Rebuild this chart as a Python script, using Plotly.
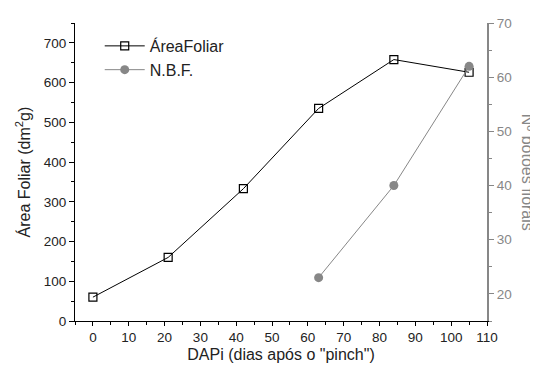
import plotly.graph_objects as go

dapi = [0, 21, 42, 63, 84, 105]
area_foliar = [60, 160, 333, 535, 658, 626]
nbf_x = [63, 84, 105]
nbf = [23, 40, 62]

FONT = "Liberation Sans, Arial, sans-serif"
GRAY = "#878787"

fig = go.Figure()
fig.add_trace(go.Scatter(
    x=dapi, y=area_foliar, name="ÁreaFoliar", mode="lines+markers",
    line=dict(color="black", width=1),
    marker=dict(symbol="square-open", size=8, color="black", line=dict(width=1.2)),
    xaxis="x", yaxis="y"))
fig.add_trace(go.Scatter(
    x=nbf_x, y=nbf, name="N.B.F.", mode="lines+markers",
    line=dict(color=GRAY, width=1),
    marker=dict(symbol="circle", size=9, color=GRAY),
    xaxis="x", yaxis="y2"))

common_x = dict(range=[-5, 110], tick0=0, dtick=10, zeroline=False, showgrid=False)

fig.update_layout(
    width=538, height=365,
    margin=dict(l=67, r=59, t=8, b=52),
    paper_bgcolor="white", plot_bgcolor="white",
    font=dict(family=FONT, size=13.5, color="#222"),
    showlegend=True,
    legend=dict(x=0.06, y=0.98, xanchor="left", yanchor="top",
                bgcolor="rgba(0,0,0,0)", font=dict(size=16, color="#222"),
                tracegroupgap=0, itemwidth=40),
    xaxis=dict(**common_x, ticks="outside", ticklen=4, tickwidth=1,
               tickcolor="black", showline=True, linecolor="black", linewidth=1,
               minor=dict(ticks="outside", dtick=5, ticklen=3, tickcolor="black"),
               tickfont=dict(size=13.5, color="#222"),
               title=dict(text='DAPi (dias após o "pinch")', font=dict(size=16, color="#222"), standoff=4)),
    xaxis2=dict(**common_x, overlaying="x", side="top", anchor="y",
                ticks="inside", ticklen=5, tickcolor="black",
                showline=True, linecolor="black", linewidth=1, showticklabels=False,
                minor=dict(ticks="inside", dtick=5, ticklen=3, tickcolor="black")),
    xaxis3=dict(**common_x, overlaying="x", side="bottom", anchor="y",
                ticks="inside", ticklen=3, tickcolor="black",
                showline=False, showticklabels=False,
                minor=dict(ticks="inside", dtick=5, ticklen=2, tickcolor="black")),
    yaxis=dict(range=[0, 750], tick0=0, dtick=100, showgrid=False, zeroline=False,
               ticks="outside", ticklen=5, tickcolor="black",
               showline=True, linecolor="black", linewidth=1,
               minor=dict(ticks="outside", dtick=50, ticklen=3, tickcolor="black"),
               tickfont=dict(size=13.5, color="#222")),
    yaxis2=dict(range=[15, 70], tick0=0, dtick=10, overlaying="y", side="right",
                showgrid=False, zeroline=False,
                ticks="outside", ticklen=5, tickcolor=GRAY,
                showline=True, linecolor=GRAY, linewidth=2,
                minor=dict(ticks="outside", dtick=5, ticklen=3, tickcolor=GRAY),
                tickfont=dict(size=13.5, color=GRAY)),
    annotations=[
        dict(text="Área Foliar (dm<sup>2</sup>g)", xref="paper", yref="paper",
             x=-0.125, y=0.5, textangle=-90, showarrow=False,
             font=dict(size=16, color="#222"), xanchor="center", yanchor="middle"),
        dict(text="Nº botões florais", xref="paper", yref="paper",
             x=1.1, y=0.5, textangle=90, showarrow=False,
             font=dict(size=16, color=GRAY), xanchor="center", yanchor="middle"),
    ],
)

fig.write_html("out.html")
